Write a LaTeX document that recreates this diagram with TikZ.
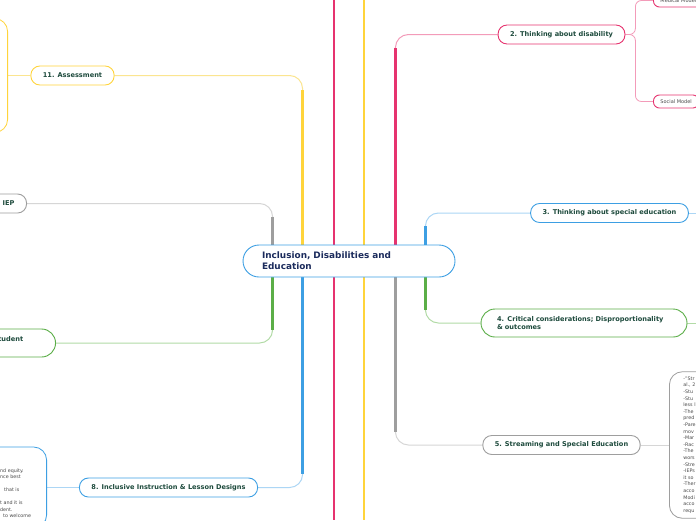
\documentclass[tikz,border=0pt]{standalone}
\usepackage{fontspec}
\setmainfont{DejaVu Sans}
\usetikzlibrary{backgrounds}
\definecolor{cPink}{HTML}{E6336F}
\definecolor{lPink}{HTML}{F39BB9}
\definecolor{cYellow}{HTML}{FFD43B}
\definecolor{lYellow}{HTML}{FBE590}
\definecolor{cGray}{HTML}{9E9E9E}
\definecolor{lGray}{HTML}{D6D6D6}
\definecolor{cGreen}{HTML}{5BAE47}
\definecolor{lGreen}{HTML}{B2DBA6}
\definecolor{cBlue}{HTML}{3D9FE3}
\definecolor{lBlue}{HTML}{ACD6F5}
\definecolor{tTopic}{HTML}{1D4A3C}
\definecolor{tRoot}{HTML}{1B2B5C}
\definecolor{tNote}{HTML}{4A4A4A}
\tikzset{
  topic/.style={draw, fill=white, rounded corners=9pt, minimum height=19pt,
                inner xsep=12pt, inner ysep=2pt, line width=0.9pt, text=tTopic,
                font=\fontsize{6.6}{7.8}\selectfont\bfseries},
  rootbox/.style={draw=cBlue, fill=white, rounded corners=16pt, minimum height=32pt,
                  text width=174pt, inner xsep=19pt, align=left, line width=0.9pt,
                  text=tRoot, font=\fontsize{8.9}{11}\selectfont\bfseries},
  subtopic/.style={draw, fill=white, rounded corners=6pt, minimum height=13pt,
                   inner xsep=7pt, inner ysep=1pt, line width=0.9pt, text=tNote,
                   font=\fontsize{5}{6}\selectfont},
  notebox/.style={draw, fill=white, rounded corners=13pt, line width=0.8pt,
                  text=tNote, align=left, font=\fontsize{4.8}{6.6}\selectfont},
  link/.style={line width=1pt, rounded corners=13pt},
  sublink/.style={line width=0.8pt, rounded corners=6pt},
  trunk/.style={line width=2.2pt},
}

\begin{document}
\begin{tikzpicture}[x=1pt, y=-1pt]
\useasboundingbox (0,0) rectangle (696,520);

% Root
\node[rootbox] (root) at (349,261) {Inclusion, Disabilities and\\Education};

% Left topics
\node[topic, draw=cYellow] (assess) at (72.5,75.5) {11. Assessment};
\node[topic, draw=cGray, anchor=east] (iep) at (27,203.5) {IEP};
\node[topic, draw=cGreen, anchor=east, minimum height=28pt, rounded corners=14pt,
      text width=50pt, align=left] (student) at (56,343) {Student\\~};
\node[topic, draw=cBlue] (incl) at (168.5,487.5) {8. Inclusive Instruction \& Lesson Designs};

% Right topics
\node[topic, draw=cPink] (dis) at (561.5,34.5) {2. Thinking about disability};
\node[topic, draw=cBlue] (spec) at (609.5,213) {3. Thinking about special education};
\node[topic, draw=cGreen, minimum height=28pt, rounded corners=14pt, text width=174pt,
      inner xsep=16pt, align=left] (crit) at (584,323)
      {4. Critical considerations; Disproportionality\\\& outcomes};
\node[topic, draw=cGray] (stream) at (561.5,445) {5. Streaming and Special Education};

% Sub-topics
\node[subtopic, draw=cPink, anchor=west] (medical) at (653,0.5) {Medical Model};
\node[subtopic, draw=cPink, anchor=west] (social) at (653,101.5) {Social Model};

% Notes
\node[notebox, draw=cYellow, anchor=east, minimum width=60pt, minimum height=114pt]
      (assessnote) at (8,75.5) {};
\node[notebox, draw=cBlue, anchor=east, minimum width=120pt, minimum height=81pt]
      (inclnote) at (47,487.5) {};
\node[anchor=north west, inner sep=0pt, text=tNote, align=left,
      font=\fontsize{4.8}{6.5}\selectfont] (incltext) at (0,468.5)
      {nd equity.\\nce best\\~\\\hspace*{4pt}that is\\~\\t and it is\\dent.\\\hspace*{3pt}to welcome};
\node[notebox, draw=cGray, anchor=west, text width=60pt, inner xsep=14pt, inner ysep=5pt]
      (streamnote) at (669,445)
      {-"Str\\al., 2\\-Stu\\-Stu\\less l\\-The\\pred\\-Pare\\mov\\-Mar\\-Rac\\-The\\wors\\-Stre\\-IEPs\\it so\\-Ther\\acco\\Modi\\acco\\requ};

% Trunk roots on the central node
\coordinate (yellowRoot) at ([xshift=60pt]root.north west);
\coordinate (grayRoot) at ([xshift=30pt]root.north west);
\coordinate (greenRoot) at ([xshift=30pt]root.south west);
\coordinate (blueRoot) at ([xshift=60pt]root.south west);
\coordinate (pinkRoot) at ([xshift=-60pt]root.north east);
\coordinate (specRoot) at ([xshift=-30pt]root.north east);
\coordinate (critRoot) at ([xshift=-30pt]root.south east);
\coordinate (streamRoot) at ([xshift=-60pt]root.south east);

\coordinate (pinkTop) at (334,0);
\coordinate (pinkBot) at (334,520);
\coordinate (yellowTop) at (364,0);
\coordinate (yellowBot) at (364,520);
\coordinate (specEnd) at (700,213);
\coordinate (critEnd) at (700,323);

\begin{scope}[on background layer]
  \fill[white] (0,0) rectangle (696,520);
  % lines passing behind the root
  \draw[trunk, cPink, line width=2.6pt] (pinkTop) -- (pinkBot);
  \draw[trunk, cYellow, line width=2.6pt] (yellowTop) -- (yellowBot);

  % left branches
  \draw[link, lYellow] (yellowRoot) |- (assess.east);
  \draw[trunk, cYellow] (yellowRoot) -- ++(0,-155);
  \draw[link, lGray] (grayRoot) |- (iep.east);
  \draw[trunk, cGray] (grayRoot) -- ++(0,-28);
  \draw[link, lGreen] (greenRoot) |- (student.east);
  \draw[trunk, cGreen] (greenRoot) -- ++(0,53);
  \draw[link, lBlue] (blueRoot) |- (incl.east);
  \draw[trunk, cBlue] (blueRoot) -- ++(0,197);

  % right branches
  \draw[link, lPink] (pinkRoot) |- (dis.west);
  \draw[trunk, cPink] (pinkRoot) -- ++(0,-197);
  \draw[link, lBlue] (specRoot) |- (spec.west);
  \draw[trunk, cBlue] (specRoot) -- ++(0,-19);
  \draw[link, lGreen] (critRoot) |- (crit.west);
  \draw[trunk, cGreen] (critRoot) -- ++(0,33);
  \draw[link, lGray] (streamRoot) |- (stream.west);
  \draw[trunk, cGray] (streamRoot) -- ++(0,155);

  % topic to notes and sub-topics
  \draw[sublink, lPink] (dis.east) -- ++(10,0) |- (medical.west);
  \draw[sublink, lPink] (dis.east) -- ++(10,0) |- (social.west);
  \draw[link, lYellow] (assessnote.east) -- (assess.west);
  \draw[link, lBlue] (inclnote.east) -- (incl.west);
  \draw[link, lGray] (stream.east) -- (streamnote.west);
  \draw[link, lBlue] (spec.east) -- (specEnd);
  \draw[link, lGreen] (crit.east) -- (critEnd);
\end{scope}

\end{tikzpicture}
\end{document}
